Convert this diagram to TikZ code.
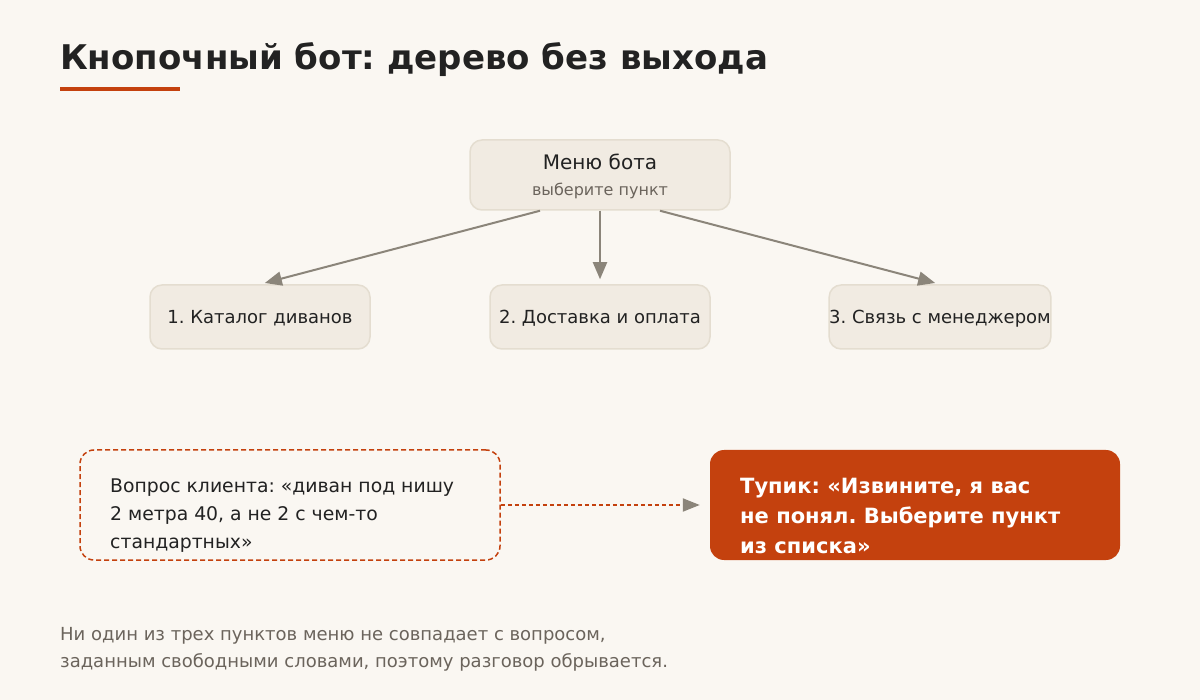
\documentclass[tikz,border=0pt]{standalone}
\usepackage{fontspec}
\setmainfont{DejaVu Sans}
\frenchspacing
\usetikzlibrary{arrows.meta,calc}
\definecolor{bg}{HTML}{FAF7F2}
\definecolor{boxfill}{HTML}{F1EBE2}
\definecolor{boxline}{HTML}{E4DDD0}
\definecolor{ink}{HTML}{222222}
\definecolor{muted}{HTML}{6B645C}
\definecolor{accent}{HTML}{C4410E}
\definecolor{arrowgray}{HTML}{8B857A}
\tikzset{
  menubox/.style={draw=boxline, line width=1.5pt, fill=boxfill, rounded corners=12pt, minimum width=#1, minimum height=64pt, inner sep=0pt, text height=14pt, text depth=0pt, font=\fontsize{18pt}{21pt}\selectfont, text=ink},
  menubox/.default=220pt,
  treearrow/.style={draw=arrowgray, line width=2pt, -{Triangle[length=17pt,width=14pt]}, shorten >=5pt},
  para/.style={inner sep=0pt, align=left, anchor=base west},
}
\begin{document}
\begin{tikzpicture}[x=1pt,y=-1pt]
\fill[bg] (0,0) rectangle (1200,700);
\useasboundingbox (0,0) rectangle (1200,700);

% title
\node[para, font=\fontsize{34pt}{40pt}\selectfont\bfseries, text=ink] (title) at (60,70) {Кнопочный бот: дерево без выхода};
\fill[accent] (60,87) rectangle (180,91);

% menu
\node[draw=boxline, line width=1.5pt, fill=boxfill, rounded corners=12pt, minimum width=260pt, minimum height=70pt, inner sep=0pt] (menu) at (600,175) {};
\node[inner sep=0pt, anchor=base, font=\fontsize{20pt}{23pt}\selectfont, text=ink] (menut) at (600,170) {Меню бота};
\node[inner sep=0pt, anchor=base, font=\fontsize{16pt}{19pt}\selectfont, text=muted] (menus) at (600,196) {выберите пункт};

% options
\node[menubox] (c1) at (260,317) {1. Каталог диванов};
\node[menubox] (c2) at (600,317) {2. Доставка и оплата};
\node[menubox] (c3) at (940,317) {3. Связь с менеджером};

\draw[treearrow] ($(menu.south)+(-60,0)$) -- (c1.north);
\draw[treearrow] (menu.south) -- (c2.north);
\draw[treearrow] ($(menu.south)+(60,0)$) -- (c3.north);

% question
\node[draw=accent, line width=1.5pt, dash pattern=on 5pt off 3pt, fill=bg, rounded corners=14pt, minimum width=420pt, minimum height=110pt, inner sep=0pt] (q) at (290,505) {};
\node[para, font=\fontsize{18.8pt}{28pt}\selectfont, text=ink] (qt) at (110,548) {Вопрос клиента: «диван под нишу\\2 метра 40, а не 2 с чем-то\\стандартных»};

% dead end
\node[fill=accent, rounded corners=14pt, minimum width=410pt, minimum height=110pt, inner sep=0pt] (dead) at (915,505) {};
\node[para, font=\fontsize{21pt}{30pt}\selectfont\bfseries, text=white] (deadt) at (740,553) {Тупик: «Извините, я вас\\не понял. Выберите пункт\\из списка»};

\draw[draw=accent, line width=2pt, dash pattern=on 4pt off 3pt, -{Triangle[length=17pt,width=13pt,color=arrowgray,fill=arrowgray]}, shorten >=10pt] (q.east) -- (dead.west);

% footer
\node[para, font=\fontsize{18pt}{27pt}\selectfont, text=muted] (foot) at (60,667) {Ни один из трех пунктов меню не совпадает с вопросом,\\заданным свободными словами, поэтому разговор обрывается.};
\end{tikzpicture}
\end{document}
